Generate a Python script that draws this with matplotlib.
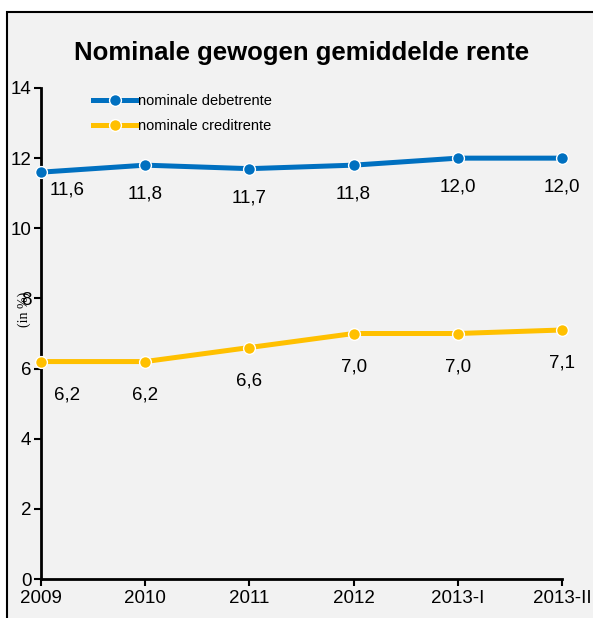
import matplotlib
matplotlib.use('Agg')
import matplotlib.pyplot as plt
from matplotlib.patches import Rectangle

# ---- data ----
periods = ['2009', '2010', '2011', '2012', '2013-I', '2013-II']
debet = [11.6, 11.8, 11.7, 11.8, 12.0, 12.0]
credit = [6.2, 6.2, 6.6, 7.0, 7.0, 7.1]
debet_labels = ['11,6', '11,8', '11,7', '11,8', '12,0', '12,0']
credit_labels = ['6,2', '6,2', '6,6', '7,0', '7,0', '7,1']

BLUE = '#0070C0'
YELLOW = '#FFC000'
BG = '#F2F2F2'

plt.rcParams['font.family'] = ['Liberation Sans Narrow', 'Liberation Sans', 'DejaVu Sans']

fig = plt.figure(figsize=(5.93, 6.18), dpi=100, facecolor='white')

# grey frame, cropped on the right and bottom
frame = Rectangle((7 / 593, -0.1), 1.2, 1.1 - 12 / 618,
                  transform=fig.transFigure, facecolor=BG,
                  edgecolor='black', linewidth=1.5, zorder=-5)
fig.add_artist(frame)

ax = fig.add_axes([41 / 593, 39 / 618, 521 / 593, 491 / 618])
ax.set_facecolor('none')
ax.set_zorder(2)

x = list(range(len(periods)))
ax.plot(x, debet, color=BLUE, linewidth=3.6, marker='o', markersize=8.5,
        markeredgecolor='white', markeredgewidth=1, label='nominale debetrente',
        clip_on=False, zorder=3)
ax.plot(x, credit, color=YELLOW, linewidth=3.6, marker='o', markersize=8.5,
        markeredgecolor='white', markeredgewidth=1, label='nominale creditrente',
        clip_on=False, zorder=3)

for i in x:
    dx = 19 if i == 0 else 0
    dy_d = -13 if i == 0 else -21
    ax.annotate(debet_labels[i], (i, debet[i]), xytext=(dx, dy_d),
                textcoords='offset points', ha='center', va='center', fontsize=13.5)
    ax.annotate(credit_labels[i], (i, credit[i]), xytext=(dx, -24),
                textcoords='offset points', ha='center', va='center', fontsize=13.5)

ax.set_xlim(0, 5)
ax.set_ylim(0, 14)
ax.set_xticks(x)
ax.set_xticklabels(periods, fontsize=13.5)
ax.set_yticks(range(0, 15, 2))
ax.tick_params(axis='y', labelsize=13.5, length=5, width=1.5, direction='out', pad=2)
ax.tick_params(axis='x', length=5, width=1.5, direction='out', pad=3)

for s in ['top', 'right']:
    ax.spines[s].set_visible(False)
for s in ['left', 'bottom']:
    ax.spines[s].set_linewidth(2)
    ax.spines[s].set_color('black')

ax.set_ylabel('(in %)', fontsize=10, family='Liberation Serif')
ax.yaxis.set_label_coords(-0.02, 0.55)

ax.legend(loc='upper left', bbox_to_anchor=(0.075, 1.015), frameon=False,
          fontsize=10.5, handlelength=3.0, handletextpad=0.1, labelspacing=0.75)

fig.text(0.508, 0.915, 'Nominale gewogen gemiddelde rente', ha='center', va='center',
         fontsize=18.5, fontweight='bold')

fig.savefig('out.png', dpi=100, facecolor='white')
